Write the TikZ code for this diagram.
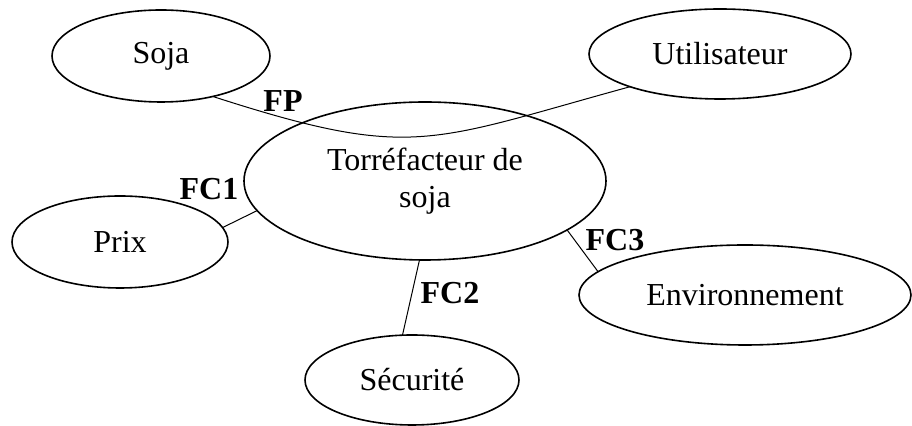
\documentclass[tikz,border=0pt]{standalone}
\usepackage{fontspec}
\setmainfont{Liberation Serif}
\usetikzlibrary{shapes.geometric}
\begin{document}
\begin{tikzpicture}[x=0.5pt, y=-0.5pt, font=\fontsize{16}{18.5}\selectfont, line join=round, line cap=round,
	bloc/.style={draw, ellipse, line width=0.8pt, inner sep=0pt, outer sep=0pt},
	lien/.style={line width=0.5pt},
	etiq/.style={font=\fontsize{16}{18.5}\selectfont\bfseries}]
	\useasboundingbox (0,0) rectangle (912,426);
	\node[bloc, minimum width=181pt, minimum height=79pt, align=center] (torr) at (425,181) {Torréfacteur de\\soja};
	\node[bloc, minimum width=109pt, minimum height=46pt] (soja) at (161,56) {Soja};
	\node[bloc, minimum width=131pt, minimum height=45pt] (util) at (720,54) {Utilisateur};
	\node[bloc, minimum width=108pt, minimum height=46pt] (prix) at (120,242) {Prix};
	\node[bloc, minimum width=107pt, minimum height=45pt] (secu) at (412,380) {Sécurité};
	\node[bloc, minimum width=166pt, minimum height=50pt] (envi) at (745,295) {Environnement};
	\draw[lien] (soja.322) .. controls (413,161) and (428,142) .. (util.200);
	\draw[lien] (prix.8) -- (torr.190);
	\draw[lien] (torr.266) -- (secu.102);
	\draw[lien] (torr.341) -- (envi.171);
	\node[etiq] at (283,101) {FP};
	\node[etiq] at (209,189) {FC1};
	\node[etiq] at (450,293) {FC2};
	\node[etiq] at (615,240) {FC3};
\end{tikzpicture}
\end{document}
